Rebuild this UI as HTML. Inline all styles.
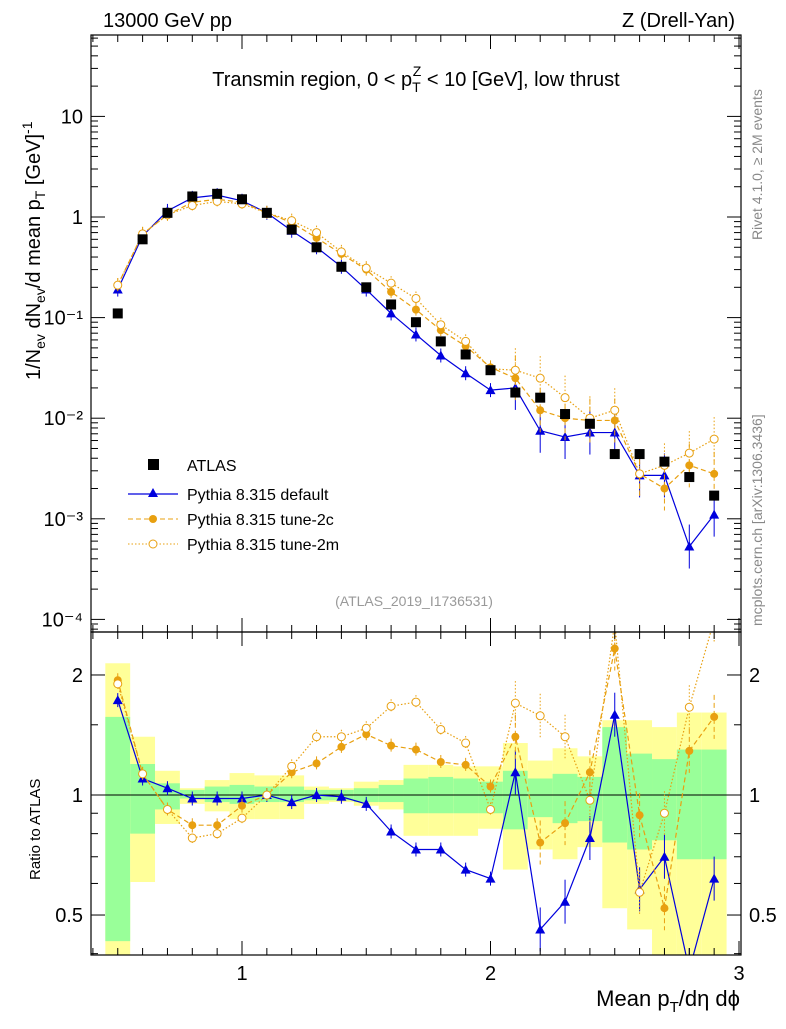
<!DOCTYPE html>
<html><head><meta charset="utf-8"><style>
body{margin:0;background:#fff;}
svg{font-family:"Liberation Sans",sans-serif;}
</style></head><body>
<svg id="c" width="786" height="1024" viewBox="0 0 786 1024" xmlns="http://www.w3.org/2000/svg"></svg>
<script>
const xs=[0.5,0.6,0.7,0.8,0.9,1.0,1.1,1.2,1.3,1.4,1.5,1.6,1.7,1.8,1.9,2.0,2.1,2.2,2.3,2.4,2.5,2.6,2.7,2.8,2.9];
const atlas=[0.11,0.6,1.1,1.6,1.7,1.5,1.1,0.75,0.5,0.32,0.2,0.135,0.09,0.058,0.043,0.03,0.018,0.016,0.011,0.0088,0.0044,0.0044,0.0037,0.0026,0.0017];
const pyDef=[0.19,0.65,1.15,1.55,1.65,1.45,1.1,0.73,0.5,0.32,0.19,0.11,0.068,0.042,0.028,0.019,0.02,0.0075,0.0065,0.0072,0.0072,0.0027,0.0027,0.00053,0.0011];
const py2c=[0.21,0.68,1.05,1.4,1.5,1.4,1.1,0.88,0.62,0.43,0.3,0.18,0.12,0.075,0.052,0.032,0.025,0.012,0.01,0.0095,0.0095,0.0028,0.002,0.0034,0.0028];
const py2m=[0.21,0.68,1.05,1.3,1.43,1.35,1.1,0.92,0.7,0.45,0.31,0.22,0.155,0.085,0.058,0.031,0.03,0.025,0.016,0.01,0.012,0.0028,0.0034,0.0045,0.0062];
const rDef=[1.73,1.10,1.04,0.98,0.98,0.98,1.0,0.96,1.0,0.99,0.95,0.81,0.73,0.73,0.65,0.617,1.14,0.46,0.54,0.78,1.59,0.58,0.70,0.3,0.617];
const r2c=[1.94,1.13,0.92,0.84,0.84,0.94,1.0,1.14,1.20,1.32,1.42,1.33,1.30,1.21,1.19,1.05,1.40,0.76,0.85,1.14,2.33,0.89,0.52,1.29,1.57];
const r2m=[1.90,1.13,0.92,0.78,0.80,0.875,1.0,1.18,1.40,1.40,1.47,1.67,1.71,1.46,1.35,0.92,1.70,1.58,1.40,0.97,2.7,0.57,0.90,1.66,3.0];
const greenLo=[0.43,0.80,0.92,0.98,0.96,0.95,0.96,0.96,0.97,0.97,0.96,0.96,0.90,0.90,0.90,0.90,0.82,0.88,0.85,0.86,0.76,0.73,0.77,0.69,0.69];
const greenHi=[1.57,1.196,1.07,1.03,1.05,1.06,1.05,1.05,1.03,1.03,1.04,1.06,1.10,1.11,1.10,1.08,1.15,1.10,1.13,1.11,1.48,1.27,1.23,1.30,1.30];
const yelLo=[0.39,0.605,0.846,0.95,0.91,0.87,0.87,0.87,0.95,0.96,0.94,0.92,0.79,0.79,0.79,0.823,0.65,0.73,0.69,0.74,0.52,0.46,0.39,0.39,0.39];
const yelHi=[2.14,1.40,1.15,1.04,1.09,1.135,1.12,1.12,1.05,1.04,1.08,1.09,1.19,1.19,1.18,1.18,1.35,1.22,1.31,1.25,1.54,1.54,1.48,1.61,1.61];
const yTicks=["10","1","10\u207B\u00B9","10\u207B\u00B2","10\u207B\u00B3","10\u207B\u2074"];
const xTickLabels=["1","2","3"];

const S=document.getElementById('c');const NS='http://www.w3.org/2000/svg';
function el(t,a,p){const e=document.createElementNS(NS,t);for(const k in a)e.setAttribute(k,a[k]);(p||S).appendChild(e);return e;}
const L=91,R=741,T=35,MB=632,B=955;
const X=v=>242+(v-1)*248.5;
const Y=v=>217-Math.log10(v)*100.6;
const RY=v=>Math.max(620,Math.min(970,795-Math.log10(v)*398.7));
const clipM=el('clipPath',{id:'cm'});el('rect',{x:L,y:T,width:R-L,height:MB-T},clipM);
const clipR=el('clipPath',{id:'cr'});el('rect',{x:L,y:MB,width:R-L,height:B-MB},clipR);

const gB=el('g',{'clip-path':'url(#cr)'});

xs.forEach((x,i)=>{const x0=X(x-0.05),w=X(x+0.05)-x0;
 el('rect',{x:x0,y:RY(yelHi[i]),width:w,height:RY(yelLo[i])-RY(yelHi[i]),fill:'#ffff99'},gB);
 el('rect',{x:x0,y:RY(greenHi[i]),width:w,height:RY(greenLo[i])-RY(greenHi[i]),fill:'#99ff99'},gB);});
el('line',{x1:L,x2:R,y1:795,y2:795,stroke:'#000','stroke-width':1});

function series(vals,yf,color,dash,marker,name,clip){
 const g=el('g',{'clip-path':clip});
 
 el('polyline',{points:xs.map((x,i)=>X(x)+','+yf(vals[i])).join(' '),fill:'none',stroke:color,'stroke-width':1.2,'stroke-dasharray':dash},g);
 xs.forEach((x,i)=>{const cx=X(x),cy=yf(vals[i]);const e=i>15?22:7;
  el('line',{x1:cx,x2:cx,y1:cy-e,y2:cy+e,stroke:color,'stroke-width':1,'stroke-dasharray':dash},g);
  if(marker=='tri')el('polygon',{points:`${cx},${cy-5} ${cx-5},${cy+4} ${cx+5},${cy+4}`,fill:color},g);
  else if(marker=='dot')el('circle',{cx,cy,r:4,fill:color},g);
  else el('circle',{cx,cy,r:4,fill:'#fff',stroke:color,'stroke-width':1},g);});
}
series(pyDef,Y,'#0000dd','', 'tri','series-default-main','url(#cm)');
series(py2c,Y,'#e8a010','5,3','dot','series-tune2c-main','url(#cm)');
series(py2m,Y,'#e8a010','1.5,2','open','series-tune2m-main','url(#cm)');
const ga=el('g',{'clip-path':'url(#cm)'});
xs.forEach((x,i)=>el('rect',{x:X(x)-5,y:Y(atlas[i])-5,width:10,height:10,fill:'#000'},ga));
series(rDef,RY,'#0000dd','','tri','series-default-ratio','url(#cr)');
series(r2c,RY,'#e8a010','5,3','dot','series-tune2c-ratio','url(#cr)');
series(r2m,RY,'#e8a010','1.5,2','open','series-tune2m-ratio','url(#cr)');

el('rect',{x:L,y:T,width:R-L,height:MB-T,fill:'none',stroke:'#000','stroke-width':1.2});
el('rect',{x:L,y:MB,width:R-L,height:B-MB,fill:'none',stroke:'#000','stroke-width':1.2});
yTicks.forEach((t,i)=>{const v=Math.pow(10,1-i),y=Y(v);
 el('line',{x1:L,x2:L+14,y1:y,y2:y,stroke:'#000'});el('line',{x1:R-14,x2:R,y1:y,y2:y,stroke:'#000'});
 const tx=el('text',{x:L-8,y:y+7,'text-anchor':'end','font-size':20});tx.textContent=t;
 
 for(let m=2;m<10;m++){const y2=Y(Math.pow(10,-i)*m);if(y2>T&&y2<MB){el('line',{x1:L,x2:L+7,y1:y2,y2:y2,stroke:'#000'});el('line',{x1:R-7,x2:R,y1:y2,y2:y2,stroke:'#000'});}}
});
for(let m=2;m<=6;m++){const y2=Y(10*m);if(y2>T){el('line',{x1:L,x2:L+7,y1:y2,y2:y2,stroke:'#000'});el('line',{x1:R-7,x2:R,y1:y2,y2:y2,stroke:'#000'});}}
for(let v=0.4;v<=3.001;v+=0.1){const x=X(v),maj=Math.abs(v-Math.round(v))<0.01;const h=maj?14:7;
 [[MB,MB-h],[T,T+h],[B,B-h],[MB,MB+h]].forEach(p=>el('line',{x1:x,x2:x,y1:p[0],y2:p[1],stroke:'#000'}));}
xTickLabels.forEach((t,i)=>{const tx=el('text',{x:X(i+1),y:980,'text-anchor':'middle','font-size':20});tx.textContent=t;
 });
[[2,'2'],[1,'1'],[0.5,'0.5']].forEach(([v,t])=>{const y=RY(v);
 el('line',{x1:L,x2:L+14,y1:y,y2:y,stroke:'#000'});el('line',{x1:R-14,x2:R,y1:y,y2:y,stroke:'#000'});
 const a=el('text',{x:L-8,y:y+7,'text-anchor':'end','font-size':20});a.textContent=t;
 const b=el('text',{x:R+8,y:y+7,'font-size':20});b.textContent=t;});
[0.4,0.6,0.7,0.8,0.9,1.5].forEach(v=>{const y=RY(v);el('line',{x1:L,x2:L+7,y1:y,y2:y,stroke:'#000'});el('line',{x1:R-7,x2:R,y1:y,y2:y,stroke:'#000'});});
</script>
<svg width="786" height="1024" style="position:absolute;left:0;top:0" xmlns="http://www.w3.org/2000/svg">
<text x="103" y="27" font-size="20" font-family="Liberation Sans,sans-serif">13000 GeV pp</text>
<text x="735" y="27" font-size="20" text-anchor="end" font-family="Liberation Sans,sans-serif">Z (Drell-Yan)</text>
<text x="416" y="86" font-size="20" text-anchor="middle" font-family="Liberation Sans,sans-serif">Transmin region, 0 &lt; p<tspan font-size="14" dy="6">T</tspan><tspan font-size="14" dx="-8" dy="-16">Z</tspan><tspan dy="10"> &lt; 10 [GeV], low thrust</tspan></text>
<text x="414" y="606" font-size="14" fill="#999" text-anchor="middle" font-family="Liberation Sans,sans-serif">(ATLAS_2019_I1736531)</text>
<text transform="translate(762,240) rotate(-90)" font-size="14" fill="#888" font-family="Liberation Sans,sans-serif">Rivet 4.1.0, ≥ 2M events</text>
<text transform="translate(762,626) rotate(-90)" font-size="14" fill="#888" font-family="Liberation Sans,sans-serif">mcplots.cern.ch [arXiv:1306.3436]</text>
<text transform="translate(40,380) rotate(-90)" font-size="20" font-family="Liberation Sans,sans-serif">1/N<tspan font-size="14" dy="5">ev</tspan><tspan dy="-5"> dN</tspan><tspan font-size="14" dy="5">ev</tspan><tspan dy="-5">/d mean p</tspan><tspan font-size="14" dy="5">T</tspan><tspan dy="-5"> [GeV]</tspan><tspan font-size="14" dy="-8">-1</tspan></text>
<text transform="translate(40,880) rotate(-90)" font-size="15" font-family="Liberation Sans,sans-serif">Ratio to ATLAS</text>
<text x="740" y="1006" font-size="22" text-anchor="end" font-family="Liberation Sans,sans-serif">Mean p<tspan font-size="15" dy="6">T</tspan><tspan dy="-6">/dη dϕ</tspan></text>
<g font-family="Liberation Sans,sans-serif" font-size="16">
<rect x="148" y="459" width="11" height="11" fill="#000"/><text x="187" y="471">ATLAS</text>
<line x1="128" x2="178" y1="494" y2="494" stroke="#0000dd" stroke-width="1.2"/><polygon points="153,488 148,497 158,497" fill="#0000dd"/><text x="187" y="500">Pythia 8.315 default</text>
<line x1="128" x2="178" y1="519" y2="519" stroke="#e8a010" stroke-dasharray="5,3"/><circle cx="153" cy="519" r="4" fill="#e8a010"/><text x="187" y="525">Pythia 8.315 tune-2c</text>
<line x1="128" x2="178" y1="544" y2="544" stroke="#e8a010" stroke-dasharray="1.5,2"/><circle cx="153" cy="544" r="4" fill="#fff" stroke="#e8a010"/><text x="187" y="550">Pythia 8.315 tune-2m</text>
</g>
</svg>
</body></html>
